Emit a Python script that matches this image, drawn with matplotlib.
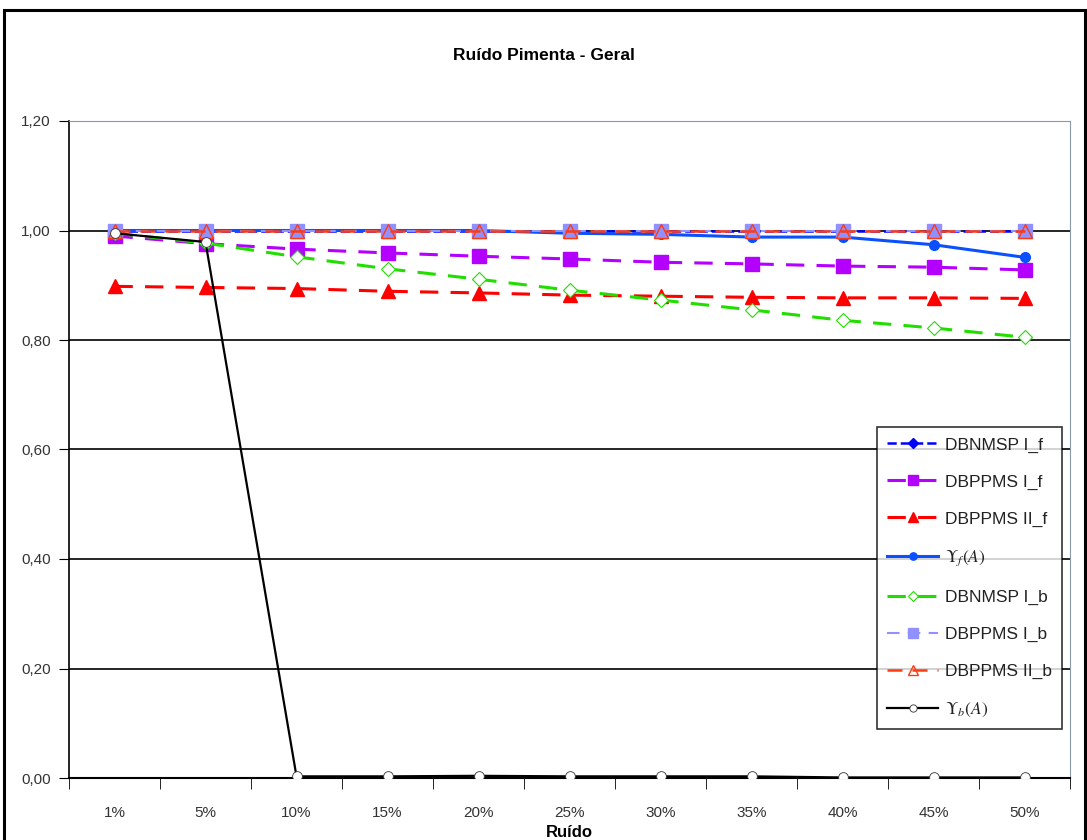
import numpy as np
import matplotlib
matplotlib.use("Agg")
import matplotlib.pyplot as plt
from matplotlib.patches import Rectangle

plt.rcParams['font.family'] = ['Liberation Sans', 'DejaVu Sans']
plt.rcParams['mathtext.fontset'] = 'stix'

# data
ruido = ['1%', '5%', '10%', '15%', '20%', '25%', '30%', '35%', '40%', '45%', '50%']
dbnmsp_i_f = [1.000, 1.000, 1.000, 1.000, 1.000, 1.000, 1.000, 1.000, 1.000, 1.000, 1.000]
dbppms_i_f = [0.990, 0.976, 0.966, 0.959, 0.953, 0.948, 0.942, 0.939, 0.935, 0.933, 0.928]
dbppms_ii_f = [0.898, 0.896, 0.894, 0.889, 0.886, 0.882, 0.880, 0.878, 0.877, 0.877, 0.876]
upsilon_f = [1.000, 1.000, 1.000, 1.000, 1.000, 0.995, 0.993, 0.988, 0.988, 0.974, 0.951]
dbnmsp_i_b = [0.995, 0.977, 0.952, 0.930, 0.911, 0.891, 0.873, 0.855, 0.836, 0.822, 0.805]
dbppms_i_b = [1.000, 1.000, 1.000, 1.000, 1.000, 1.000, 1.000, 1.000, 1.000, 1.000, 1.000]
dbppms_ii_b = [1.000, 1.000, 1.000, 1.000, 1.000, 1.000, 1.000, 1.000, 1.000, 1.000, 1.000]
upsilon_b = [0.995, 0.979, 0.003, 0.003, 0.004, 0.003, 0.003, 0.003, 0.001, 0.001, 0.001]

x = np.arange(len(ruido))

fig = plt.figure(figsize=(10.87, 8.40), dpi=100)
ax = fig.add_axes([69/1087, 1-778/840, (1070-69)/1087, (778-121)/840])

# grid lines first
for yv in np.arange(0.2, 1.01, 0.2):
    ax.axhline(yv, color='black', lw=1.2, zorder=1)

ax.plot(x, dbnmsp_i_f, color='#0000ff', ls='--', lw=1.8, marker='D', ms=7,
        label='DBNMSP I_f', zorder=3)
ax.plot(x, dbppms_i_f, color='#b400ff', ls=(0, (6, 4)), lw=2.2, marker='s', ms=10,
        label='DBPPMS I_f', zorder=3)
ax.plot(x, dbppms_ii_f, color='#ff0000', ls=(0, (6, 4)), lw=2.2, marker='^', ms=10,
        label='DBPPMS II_f', zorder=3)
ax.plot(x, upsilon_f, color='#0a50ff', ls='-', lw=2.2, marker='o', ms=7,
        label=r'$\Upsilon_f(A)$', zorder=3)
ax.plot(x, dbnmsp_i_b, color='#22dd00', ls=(0, (6, 4)), lw=2.2, marker='D', ms=7,
        mfc='white', mec='#22dd00', mew=0.8, label='DBNMSP I_b', zorder=4)
ax.plot(x, dbppms_i_b, color='#9090ff', ls=(0, (6, 4)), lw=1.5, marker='s', ms=10,
        mfc='#9090ff', mec='#9090ff', label='DBPPMS I_b', zorder=4)
ax.plot(x, dbppms_ii_b, color='#ff3a10', ls=(0, (6, 4)), lw=1.8, marker='^', ms=10,
        mfc='none', mec='#ff3a10', label='DBPPMS II_b', zorder=5)
ax.plot(x, upsilon_b, color='black', ls='-', lw=1.6, marker='o', ms=7,
        mfc='white', mec='#333333', mew=0.6, label=r'$\Upsilon_b(A)$', zorder=6)

ax.set_xlim(-0.5, len(ruido) - 0.5)
ax.set_ylim(0, 1.2)
yt = np.arange(0, 1.21, 0.2)
ax.set_yticks(yt)
ax.set_yticklabels([('%.2f' % v).replace('.', ',') for v in yt], fontsize=11, color='#333333')
ax.set_xticks(x)
ax.set_xticklabels(ruido, fontsize=11, color='#333333')
ax.set_xticks(np.arange(-0.5, len(ruido), 1), minor=True)
ax.tick_params(axis='x', which='major', length=0, pad=20)
ax.tick_params(axis='x', which='minor', length=8, direction='out', color='black')
ax.tick_params(axis='y', length=7, direction='out', pad=6)

ax.spines['top'].set_color('#8899aa')
ax.spines['right'].set_color('#8899aa')
ax.spines['left'].set_linewidth(1.2)
ax.spines['bottom'].set_linewidth(1.5)

ax.set_xlabel('Ruído', fontsize=12, fontweight='bold', labelpad=4)
fig.text(0.5, 1 - 55/840, 'Ruído Pimenta - Geral', ha='center', va='center',
         fontsize=12.5, fontweight='bold')

leg = ax.legend(loc='upper left', bbox_to_anchor=((877-69)/1001, (778-427)/657),
                fontsize=12.5, frameon=True, fancybox=False, edgecolor='black',
                labelspacing=1.25, handlelength=2.9, handletextpad=0.4,
                borderpad=0.6, borderaxespad=0, markerscale=0.75)
leg.get_frame().set_linewidth(1.2)
for t in leg.get_texts():
    t.set_color('#222222')

# outer chart border
fig.patches.append(Rectangle((4/1087, -0.02), 1081/1087, 1.02 - 10/840,
                             transform=fig.transFigure, fill=False,
                             edgecolor='black', lw=2.2))

fig.savefig('out.png', dpi=100)
